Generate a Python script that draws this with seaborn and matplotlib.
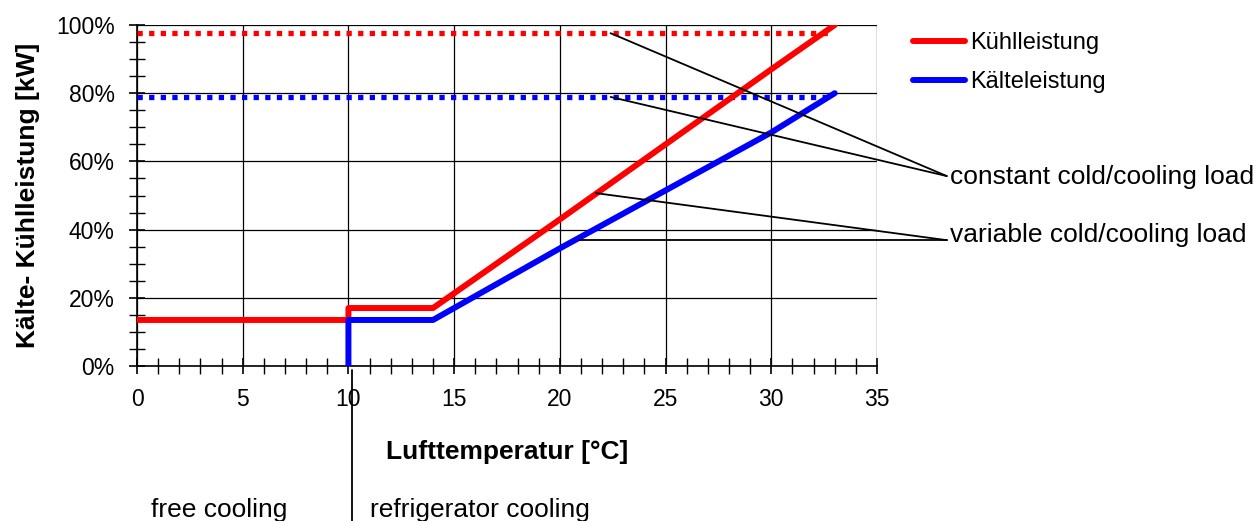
import matplotlib
matplotlib.use("Agg")
import matplotlib.pyplot as plt
import seaborn as sns
import pandas as pd
from matplotlib.ticker import MultipleLocator, PercentFormatter
from matplotlib.lines import Line2D

# ---- data ----
red_x = [0, 10, 10, 14, 20, 25, 30, 33]
red_y = [13.5, 13.5, 17, 17, 43, 65, 87, 100]
blue_x = [10, 10, 14, 20, 25, 30, 33]
blue_y = [0, 13.5, 13.5, 34.5, 51.5, 68.5, 80]
const_red = 97.6
const_blue = 78.9
const_x_end = 32.8
x_ticks = [0, 5, 10, 15, 20, 25, 30, 35]
series_names = ["Kühlleistung", "Kälteleistung"]
colors = ["#ff0000", "#0000ff"]

sns.set_theme(style="white")
plt.rcParams['font.family'] = ['Liberation Sans', 'DejaVu Sans']
plt.rcParams['text.color'] = 'black'
plt.rcParams['axes.labelcolor'] = 'black'

fig = plt.figure(figsize=(12.58, 5.21), dpi=100)
ax = fig.add_axes([137/1258, 1-366/521, 740/1258, 341/521])

df_red = pd.DataFrame({"x": red_x, "y": red_y})
df_blue = pd.DataFrame({"x": blue_x, "y": blue_y})
sns.lineplot(data=df_red, x="x", y="y", sort=False, estimator=None, color=colors[0],
             lw=4.3, ax=ax, zorder=5)
sns.lineplot(data=df_blue, x="x", y="y", sort=False, estimator=None, color=colors[1],
             lw=4.3, ax=ax, zorder=5)
ax.plot([0, const_x_end], [const_red, const_red], color=colors[0], lw=3.8,
        linestyle=(0, (1, 1.2)), dash_capstyle='butt', zorder=4)
ax.plot([0, const_x_end], [const_blue, const_blue], color=colors[1], lw=3.8,
        linestyle=(0, (1, 1.2)), dash_capstyle='butt', zorder=4)

ax.set_xlim(0, 35)
ax.set_ylim(0, 100)
ax.set_xticks(x_ticks)
ax.xaxis.set_minor_locator(MultipleLocator(1))
ax.yaxis.set_major_locator(MultipleLocator(20))
ax.yaxis.set_minor_locator(MultipleLocator(5))
ax.yaxis.set_major_formatter(PercentFormatter(decimals=0))
ax.grid(True, which='major', color='black', lw=0.9)
for s in ['top', 'right']:
    ax.spines[s].set_visible(False)
for s in ['left', 'bottom']:
    ax.spines[s].set_color('black')
    ax.spines[s].set_linewidth(1.2)
ax.tick_params(which='both', direction='inout', color='black', labelsize=16.5,
               labelcolor='black')
ax.tick_params(which='major', length=12, width=1.2)
ax.tick_params(which='minor', length=12, width=1.0)
ax.tick_params(axis='x', which='both', bottom=True, pad=10)
ax.tick_params(axis='y', which='both', left=True, pad=10)
ax.set_xlabel("")
ax.set_ylabel("Kälte- Kühlleistung [kW]", fontsize=19, fontweight='bold', color='black')
ax.yaxis.set_label_coords((40-137)/740, 0.5)

# annotation lines
ann_x = 38.3
for (x0, y0, y1) in [(22.4, const_red, 55.7), (22.4, const_blue, 55.7),
                     (21.7, 50.7, 36.9), (20.9, 36.9, 36.9)]:
    ax.plot([x0, ann_x], [y0, y1], color='black', lw=1.3, clip_on=False, zorder=6)
ax.plot([10.17, 10.17], [-1.2, -46], color='black', lw=1.3, clip_on=False)

fs = 19
fig.text(950/1258, 1-177/521, "constant cold/cooling load", fontsize=fs, va='center', ha='left')
fig.text(950/1258, 1-235/521, "variable cold/cooling load", fontsize=fs, va='center', ha='left')
fig.text(507/1258, 1-452/521, "Lufttemperatur [°C]", fontsize=fs, fontweight='bold',
         va='center', ha='center')
fig.text(219/1258, 1-510/521, "free cooling", fontsize=fs, va='center', ha='center')
fig.text(370/1258, 1-510/521, "refrigerator cooling", fontsize=fs, va='center', ha='left')

handles = [Line2D([0], [0], color=c, lw=4.3, solid_capstyle='round') for c in colors]
fig.legend(handles, series_names, loc='upper left', bbox_to_anchor=(913/1258, 1-32/521),
           frameon=False, fontsize=17, handlelength=2.2, handletextpad=0.2,
           labelspacing=0.73, borderaxespad=0, borderpad=0)

fig.savefig("out.png", dpi=100)
